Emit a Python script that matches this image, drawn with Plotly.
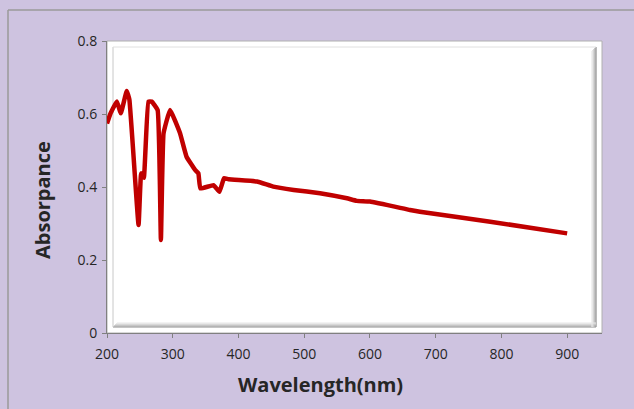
import plotly.graph_objects as go

wavelength = [200, 205, 215, 221, 230, 234, 248, 252, 256, 263, 268, 277, 282, 286,
              296, 311, 321, 334, 339, 342, 362, 371, 378, 385, 428, 453, 484, 524,
              565, 580, 600, 661, 676, 783, 900]
absorbance = [0.574, 0.600, 0.634, 0.602, 0.663, 0.640, 0.296, 0.4375, 0.425, 0.634,
              0.634, 0.611, 0.255, 0.547, 0.611, 0.548, 0.483, 0.447, 0.4375, 0.396,
              0.405, 0.387, 0.424, 0.421, 0.415, 0.401, 0.392, 0.383, 0.369, 0.362,
              0.360, 0.337, 0.332, 0.305, 0.273]
x_ticks = [200, 300, 400, 500, 600, 700, 800, 900]
y_ticks = [0, 0.2, 0.4, 0.6, 0.8]
y_tick_labels = ["0", "0.2", "0.4", "0.6", "0.8"]
x_title = "Wavelength(nm)"
y_title = "Absorpance"

W, H = 634, 409
L, R, T, B = 107, 32, 41, 76
pw, ph = W - L - R, H - T - B

def fx(px):
    return (px - L) / pw

def fy(py):
    return (H - B - py) / ph

fig = go.Figure()
fig.add_trace(go.Scatter(
    x=wavelength, y=absorbance, mode="lines",
    line=dict(color="#C00000", width=4.5, shape="spline", smoothing=0.3),
    showlegend=False, hoverinfo="skip"))

shapes = []
# outer chart border (left and top)
shapes.append(dict(type="line", xref="paper", yref="paper",
                   x0=fx(8), x1=fx(640), y0=fy(10), y1=fy(10),
                   line=dict(color="#9a9a9a", width=1.5)))
shapes.append(dict(type="line", xref="paper", yref="paper",
                   x0=fx(8), x1=fx(8), y0=fy(10), y1=fy(415),
                   line=dict(color="#9a9a9a", width=1.5)))
# plot area outer frame
shapes.append(dict(type="rect", xref="paper", yref="paper",
                   x0=fx(107), x1=fx(602), y0=fy(333), y1=fy(41),
                   line=dict(color="#b0b0b0", width=1), layer="below"))
# bevel: inner shadow on right and bottom
for i, c in enumerate(["#8c8c8c", "#a4a4a4", "#bcbcbc", "#d4d4d4", "#e8e8e8"]):
    shapes.append(dict(type="line", xref="paper", yref="paper",
                       x0=fx(596 - i), x1=fx(596 - i), y0=fy(327), y1=fy(47 + i),
                       line=dict(color=c, width=1.2), layer="below"))
    shapes.append(dict(type="line", xref="paper", yref="paper",
                       x0=fx(113 + i), x1=fx(596), y0=fy(327 - i), y1=fy(327 - i),
                       line=dict(color=c, width=1.2), layer="below"))
# inner left/top light edge
shapes.append(dict(type="line", xref="paper", yref="paper",
                   x0=fx(113), x1=fx(113), y0=fy(327), y1=fy(47),
                   line=dict(color="#c8c8c8", width=1), layer="below"))
shapes.append(dict(type="line", xref="paper", yref="paper",
                   x0=fx(113), x1=fx(596), y0=fy(47), y1=fy(47),
                   line=dict(color="#e0e0e0", width=1), layer="below"))

annotations = [
    dict(text="<b>%s</b>" % x_title, xref="paper", yref="paper",
         x=fx(320), y=fy(384), xanchor="center", yanchor="middle", showarrow=False,
         font=dict(size=20, family="Open Sans, sans-serif", color="#262626")),
    dict(text="<b>%s</b>" % y_title, xref="paper", yref="paper",
         x=fx(42), y=fy(200), xanchor="center", yanchor="middle", showarrow=False,
         textangle=-90,
         font=dict(size=20, family="Open Sans, sans-serif", color="#262626")),
]

fig.update_layout(
    width=W, height=H,
    margin=dict(l=L, r=R, t=T, b=B, pad=0),
    paper_bgcolor="#CEC3E0",
    plot_bgcolor="#FFFFFF",
    font=dict(family="Open Sans, Noto Sans, sans-serif", color="#262626"),
    shapes=shapes,
    annotations=annotations,
    xaxis=dict(
        range=[200, 953], tickvals=x_ticks, ticks="outside", ticklen=4,
        tickcolor="#808080", showline=True, linecolor="#808080", linewidth=1,
        showgrid=False, zeroline=False, automargin=False, ticklabelstandoff=4,
        tickfont=dict(size=14, family="Open Sans, sans-serif", color="#262626"),
    ),
    yaxis=dict(
        range=[0, 0.8], tickvals=y_ticks, ticktext=y_tick_labels,
        ticks="outside", ticklen=4, tickcolor="#808080",
        showline=True, linecolor="#808080", linewidth=1,
        showgrid=False, zeroline=False, automargin=False, ticklabelstandoff=2,
        tickfont=dict(size=14, family="Open Sans, sans-serif", color="#262626"),
    ),
)

fig.write_html("out.html", config={"displayModeBar": False},
               post_script="document.body.style.margin='0';document.documentElement.style.margin='0';")
